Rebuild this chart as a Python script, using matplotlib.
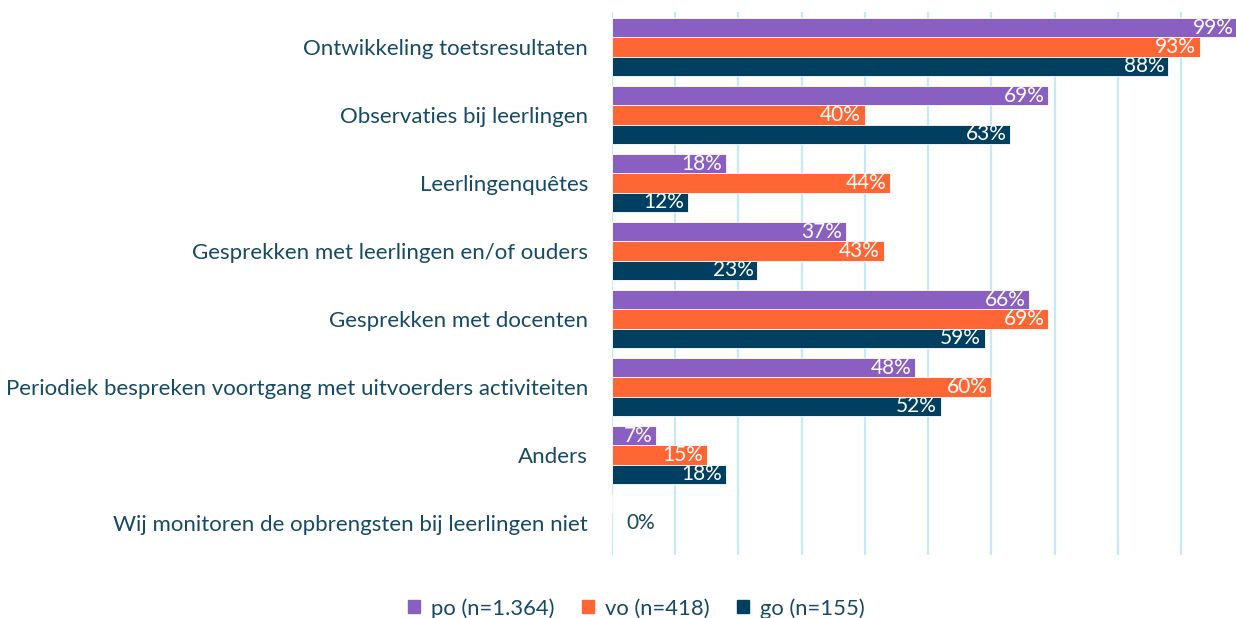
import matplotlib

matplotlib.use("Agg")

import matplotlib.pyplot as plt  # noqa: E402
import numpy as np  # noqa: E402

_INK = "#164a66"
_GRID = "#c6e9f8"
PO_COLOR = "#8a5fc2"
VO_COLOR = "#ff6633"
GO_COLOR = "#003f5f"

categories = [
    "Ontwikkeling toetsresultaten",
    "Observaties bij leerlingen",
    "Leerlingenquêtes",
    "Gesprekken met leerlingen en/of ouders",
    "Gesprekken met docenten",
    "Periodiek bespreken voortgang met uitvoerders activiteiten",
    "Anders",
    "Wij monitoren de opbrengsten bij leerlingen niet",
]
po = [99, 69, 18, 37, 66, 48, 7, 0]
vo = [93, 40, 44, 43, 69, 60, 15, None]
go = [88, 63, 12, 23, 59, 52, 18, None]
series_labels = ["po (n=1.364)", "vo (n=418)", "go (n=155)"]

plt.rcParams["font.family"] = ["Lato", "DejaVu Sans"]

fig = plt.figure(figsize=(12.36, 6.18), dpi=100)
ax = fig.add_axes([0.495, 0.102, 0.505, 0.8785])

y = np.arange(len(categories))
h = 0.284
series = [(po, PO_COLOR), (vo, VO_COLOR), (go, GO_COLOR)]
for k, (vals, color) in enumerate(series):
    offs = (k - 1) * h
    for i, v in enumerate(vals):
        if v is None:
            continue
        ax.barh(y[i] + offs, v, height=h, color=color, edgecolor="white",
                linewidth=0.6, zorder=3)
        if v >= 5:
            ax.text(v - 0.6, y[i] + offs, f"{v}%", ha="right", va="center",
                    color="white", fontsize=15, zorder=4)
        else:
            ax.text(v + 4.6, y[i], f"{v}%", ha="center", va="center",
                    color=_INK, fontsize=15, zorder=4)

ax.set_xlim(0, 98.7)
ax.set_ylim(7.47, -0.515)
ax.set_xticks(np.arange(0, 100, 10))
ax.xaxis.grid(True, color=_GRID, linewidth=1.6, zorder=0)
ax.set_axisbelow(True)
ax.tick_params(axis="x", length=0, labelbottom=False)
ax.tick_params(axis="y", length=0, pad=17)
ax.set_yticks(y)
ax.set_yticklabels(categories, fontsize=16, color=_INK)
for side in ("top", "right", "bottom", "left"):
    ax.spines[side].set_visible(False)

handles = [plt.Rectangle((0, 0), 1, 1, color=c) for _, c in series]
fig.legend(handles, series_labels, loc="lower center", ncol=3,
           bbox_to_anchor=(0.515, -0.033), frameon=False, fontsize=15.8,
           labelcolor=_INK, handlelength=0.55, handleheight=0.55,
           handletextpad=0.5, columnspacing=1.25)

fig.savefig("out.png", dpi=100)
